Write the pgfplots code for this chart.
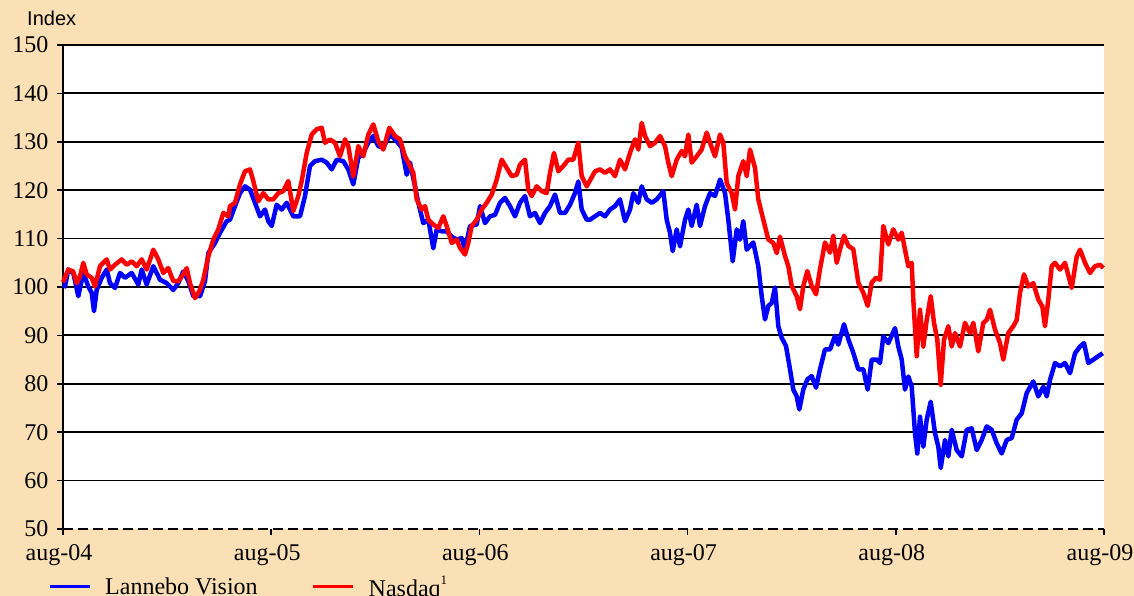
\documentclass[border=0pt]{standalone}
\usepackage{pgfplots}
\pgfplotsset{compat=1.18}
\usepackage{fontspec}
\setmainfont{Liberation Serif}
\newfontfamily\arialfont{Liberation Sans}
\definecolor{bg}{RGB}{252,224,181}
\definecolor{lblue}{RGB}{0,0,255}
\definecolor{lred}{RGB}{255,0,0}
\begin{document}
\begin{tikzpicture}
\useasboundingbox (0pt,0pt) rectangle (1134pt,596pt);
\fill[bg] (0pt,0pt) rectangle (1134pt,596pt);
\node[anchor=base west, inner sep=0pt, font=\arialfont\fontsize{20}{24}\selectfont] at (27pt,570pt) {Index};
\begin{axis}[
  at={(63pt,67pt)}, anchor=south west,
  scale only axis, width=1041pt, height=484pt,
  xmin=63, xmax=1104, ymin=50, ymax=150,
  axis x line*=bottom, axis y line*=left,
  axis background/.style={fill=white},
  x axis line style={-, line width=1.8pt, dash pattern=on 10pt off 5pt},
  y axis line style={-, line width=1.8pt},
  xtick={63,271.2,479.4,687.6,895.8,1104},
  xticklabels={aug-04,aug-05,aug-06,aug-07,aug-08,aug-09},
  ytick={60,70,...,150},
  extra y ticks={50},
  extra y tick style={grid=none},
  ymajorgrids,
  major grid style={black, line width=1.8pt},
  tick align=outside,
  major tick length=6pt,
  tick style={black, line width=1.5pt},
  /pgf/number format/assume math mode=true,
  ticklabel style={font=\fontsize{24}{24}\selectfont},
  xticklabel style={xshift=-4pt, yshift=-6pt},
  yticklabel style={xshift=-5pt},
  legend columns=2,
  legend style={at={(axis description cs:-0.0144,-0.1198)}, anchor=west, draw=none, fill=none,
    font=\fontsize{24}{24}\selectfont, inner sep=0pt,
    /tikz/every odd column/.append style={column sep=12pt},
    /tikz/every even column/.append style={column sep=52pt}},
  legend image code/.code={\draw[#1, line width=3pt] (0pt,0pt) -- (40pt,0pt);},
  clip=false,
]
\addplot[lblue, line width=4.5pt, line join=round] coordinates {
(63,100.5)(65,100.1)(68.3,103.6)(73.3,102.9)(78.3,98.1)(83.3,102.9)(88.3,100.1)(91.7,98.8)(94,95)(96.7,99.4)
(101.7,101.9)(106.7,103.6)(110,100.8)(115,99.8)(120,102.9)(125,101.9)(131.7,102.9)(138.3,100.5)(141.7,103.6)(146.7,100.5)
(153.3,104.3)(160,101.5)(166.7,100.8)(173.3,99.4)(178.3,100.8)(183.3,103.2)(188.3,101.2)(193.3,98.1)(200,98.1)(205,101.2)
(208.3,107)(215,109.1)(220,111.2)(226.7,113.6)
(230,113.9)(235,116.7)(240,119.4)(245,120.8)(250,120.1)(255,117.4)(260,114.6)(265,116)(268.3,113.6)(271.7,112.6)
(276.7,117)(281.7,116)(286.7,117.4)(293.3,114.6)(300,114.6)(305,118.8)(310,125)(315,126)(321.7,126.3)(326.7,125.7)
(331.7,124.3)(336.7,126.3)(343.3,126)(348.3,124.3)(353.3,121.2)(358.3,126.7)(363.3,127.7)(368.3,129.8)(373.3,131.2)(378.3,129.1)
(383.3,128.8)(390,131.5)(396.7,130.1)(401.7,128.8)(406.7,123.2)
(410,125.7)(415,120.8)(418.3,117.4)(423.3,113.2)(428.3,113.9)(433.3,108)(436.7,111.9)(441.7,111.5)(446.7,111.5)(451.7,110.4)
(456.7,109.8)(461.7,110.1)(465,107.7)(470,112.6)(476.7,112.9)(480,116.7)(485,113.2)(490,114.6)(495,114.9)(500,117.4)
(505,118.4)(510,116.7)(515,114.6)(520,117.4)(525,118.8)(530,114.6)(535,115.3)(540,113.2)(545,115.3)(550,116.7)
(555,119.1)(560,115.3)(565,115.3)(570,117)(575,119.4)(578.3,121.8)(581.7,116)(586.7,113.9)
(590,113.9)(595,114.6)(600,115.3)(605,114.6)(610,116)(615,116.7)(620,118.1)(625,113.6)(630,116)(633.3,119.4)
(638.3,117.4)(641.7,120.8)(646.7,118.1)(651.7,117.4)(656.7,118.1)(663.3,119.8)(666.7,113.9)(670,111.2)(672.7,107.4)(676.7,111.9)
(680,108.4)(685,113.9)(688.3,116)(691.7,112.6)(696.7,117)(700,112.6)(705,116.7)(710,119.4)(715,118.8)(720,122.2)
(725,119.4)(728.3,113.9)(732.7,105.3)(736.7,111.9)(740,109.8)(743.3,113.6)(746.7,107.7)
(753.3,109.2)(758.3,104.3)(761.7,98.1)(765,93.3)(768.3,96.1)(771.7,96.7)(775,99.9)(778.3,91.9)(781.7,89.5)(786,87.8)
(790,83)(793.3,78.8)(796.7,77.4)(799.3,74.7)(803.3,78.8)(807.3,80.9)(811.7,81.6)(816,79.2)(820,83)(825,87.1)
(830,87.1)(835,89.9)(838.3,88.1)(844,92.3)(848.3,89.2)(853.3,86.4)(858.3,83)(863.3,83)(867.7,78.8)(871.7,85)(876.7,85)
(880,84.3)(883.3,89.8)(888.3,88.4)(895,91.5)(898.3,87.7)(901.7,85)(905,78.8)(908.3,81.5)(911.7,79.4)(915,69.8)
(917.3,65.6)(920,73.2)(923.3,67)(926.7,72.6)(930.7,76.3)(935,69.8)(938.3,67)(940.7,62.6)(945,68.4)(948.3,65)
(951.7,70.5)(956.7,66.3)(961.7,65)(966.7,70.5)(971.7,70.8)(976.7,66.3)(981.7,68.4)(986.7,71.2)(991.7,70.5)(996.7,67.7)
(1001.7,65.6)(1006.7,68.4)(1011.7,68.8)(1016.7,72.6)(1021.7,73.9)(1026.7,78.1)(1033.3,80.5)(1038.3,77.4)(1043.3,79.4)(1046.7,77.4)
(1050,80.8)(1055,84.3)(1060,83.6)(1065,84.3)(1070,82.2)(1075,86.3)(1080,87.7)(1084,88.4)(1088.3,84.3)(1093.3,85)
(1098.3,85.7)(1102.7,86.3)
};
\addlegendentry{Lannebo Vision}
\addplot[lred, line width=4.5pt, line join=round] coordinates {
(63,101)(68.3,103.6)(73.3,103.2)(76.7,100.8)(80,102.2)(83.3,105)(86.7,102.6)(91.7,101.9)(95,100.1)(100,104.3)
(106.7,105.7)(110,103.6)(115,104.6)(121.7,105.7)(126.7,104.6)(131.7,105.3)(136.7,104.3)(141.7,105.7)(146.7,103.6)(153.3,107.7)
(158.3,105.7)(163.3,102.9)(168.3,103.9)(173.3,101.2)(178.3,101.2)(183.3,102.6)(186.7,103.9)(190,100.8)(195,97.7)(200,99.4)
(203.3,101.5)(208.3,106.3)(213.3,109.8)(218.3,111.9)(223.3,115.3)(228.3,114.6)
(230,116.7)(235,117.4)(240,121.2)(245,123.9)(250,124.3)(253.3,121.9)(258.3,117.7)(263.3,119.4)(268.3,118.1)(273.3,118.1)
(278.3,119.4)(283.3,119.8)(288.3,121.9)(293.3,115.7)(298.3,118.8)(301.7,121.9)(306.7,127.7)(311.7,131.5)(316.7,132.6)(321.7,132.9)
(325,129.8)(330,130.5)(335,129.8)(340,127)(345,130.5)(348.3,129.1)(353.3,122.8)(358.3,129.1)(363.3,127)(368.3,131.5)
(373.3,133.6)(378.3,130.1)(383.3,128.4)(389.3,132.9)(395,131.2)(400,130.5)(405,127)
(410,125)(413.3,123.6)(416.7,118.1)(421.7,116)(425,116.7)(428.3,113.9)(433.3,112.9)(438.3,112.2)(443.3,114.6)(446.7,112.6)
(451.7,109.1)(456.7,109.8)(460,108.1)(465,106.7)(468.3,109.1)(471.7,112.6)(476.7,113.9)(481.7,116)(486.7,117.4)(491.7,119.1)
(496.7,122.2)(501.7,126.3)(506.7,124.6)(511.7,122.9)(516.7,123.2)(520,125.3)(525,126.3)(528.3,120.1)(531.7,118.8)(536.7,120.8)
(541.7,119.8)(546.7,119.4)(550,123.6)(554,127.7)(558.3,123.9)(563.3,125)(568.3,126.3)(573.3,126.3)(578.3,129.8)(581.7,122.9)
(586.7,120.8)
(595,123.9)(600,124.3)(605,123.6)(610,124.3)(615,122.9)(620,126.3)(625,124.3)(630,127.7)(635,130.5)(638.3,128.4)
(641.7,133.9)(645,131.2)(650,129.1)(655,129.8)(660,131.2)(665,129.1)(668.3,125.7)(671.7,122.9)(676.7,126.3)(681.7,128.1)
(685,127)(688.3,131.5)(691.7,125.7)(696.7,127)(701.7,128.4)(706.7,131.9)(710,129.8)(715,127)(720,131.5)(723.3,129.8)
(726.7,121.5)(731.7,119.4)(735,116)(738.3,122.9)(743.3,126)(746.7,122.9)(750,128.4)(755,124.6)(758.3,118.1)(763.3,113.9)
(768.3,109.8)(773.3,109.1)(776.7,107)(780,110.4)
(785,106.4)(788.3,104.3)(791.7,100.2)(796.7,98.1)(800,95.4)(803.3,100.2)(807.3,103.3)(811.7,100.2)(816,98.5)(820,103.7)
(825,109.2)(830,107.1)(833.3,110.6)(836.7,105)(840,107.8)(844,110.6)(848.3,108.5)(853.3,107.8)(858.3,100.9)(863.3,98.8)
(867.7,96.1)(871.7,100.9)(876,101.9)
(880,101.5)(883.3,112.6)(888.3,108.8)(893.3,111.9)(898.3,109.8)(901.7,111.2)(905,107.7)(908.3,104.3)(911.7,105)(913.3,97.4)
(916.7,85.7)(920,95.3)(923.3,87.7)(926.7,93.2)(930.7,98.1)(934,92.6)(937.3,89.1)(940.7,79.8)(944,89.1)(948.3,91.9)
(951.7,87.7)(955,90.5)(960,87.7)(965,92.6)(970,90.5)(973.3,92.6)(978.3,86.7)(983.3,92.6)(986.7,93.2)(990,95.3)
(995,91.2)(1000,88.4)(1003.3,85)(1008.3,90.5)(1013.3,91.9)(1016.7,93.2)(1020,98.8)(1024,102.6)(1028.3,100.1)(1033.3,100.8)
(1038.3,97.4)(1042.3,96)(1045,91.9)(1048.3,97.4)(1051.7,104.3)(1055,105)(1060,103.6)(1065,105)(1071.7,99.8)(1076.7,106.3)
(1080,107.7)(1085,105)(1090,102.9)(1095,104.3)(1100,104.6)(1103.3,103.9)
};
\addlegendentry{Nasdaq\raisebox{0.5em}{\fontsize{13}{13}\selectfont 1}}
\end{axis}
\end{tikzpicture}
\end{document}
